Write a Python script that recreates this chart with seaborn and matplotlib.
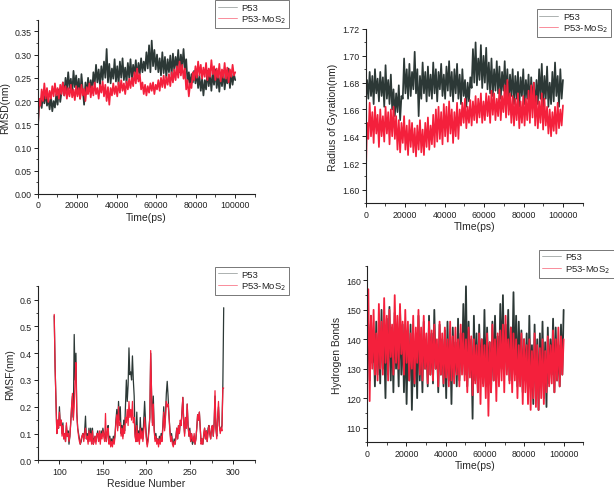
import numpy as np
import pandas as pd
import matplotlib
matplotlib.use("Agg")
import matplotlib.pyplot as plt
from matplotlib.ticker import AutoMinorLocator, FormatStrFormatter, MultipleLocator
from matplotlib.lines import Line2D
import seaborn as sns

sns.set_style("ticks")
plt.rcParams['font.family'] = ['Liberation Sans', 'DejaVu Sans']

DARK = '#2c3836'
RED = '#f4203c'

# ---------------- data ----------------
rmsd_p53 = [0.135, 0.190, 0.205, 0.185, 0.215, 0.195, 0.220, 0.190, 0.205, 0.182,
            0.210, 0.178, 0.200, 0.186, 0.215, 0.192, 0.225, 0.198, 0.220, 0.240,
            0.212, 0.250, 0.222, 0.262, 0.228, 0.248, 0.215, 0.265, 0.230, 0.255,
            0.220, 0.248, 0.205, 0.258, 0.225, 0.192, 0.240, 0.215, 0.250, 0.222,
            0.245, 0.218, 0.262, 0.235, 0.278, 0.240, 0.268, 0.232, 0.275, 0.245,
            0.285, 0.250, 0.312, 0.240, 0.280, 0.238, 0.270, 0.248, 0.290, 0.242,
            0.275, 0.235, 0.285, 0.250, 0.292, 0.245, 0.272, 0.238, 0.282, 0.250,
            0.290, 0.246, 0.278, 0.255, 0.288, 0.248, 0.282, 0.258, 0.292, 0.262,
            0.285, 0.265, 0.305, 0.270, 0.320, 0.262, 0.330, 0.275, 0.310, 0.268,
            0.300, 0.262, 0.292, 0.255, 0.305, 0.260, 0.295, 0.250, 0.290, 0.262,
            0.298, 0.255, 0.302, 0.265, 0.295, 0.270, 0.310, 0.262, 0.300, 0.272,
            0.312, 0.268, 0.290, 0.240, 0.262, 0.232, 0.258, 0.240, 0.265, 0.238,
            0.262, 0.228, 0.255, 0.222, 0.248, 0.212, 0.245, 0.225, 0.265, 0.232,
            0.258, 0.222, 0.262, 0.235, 0.268, 0.228, 0.255, 0.220, 0.260, 0.232,
            0.265, 0.225, 0.252, 0.238, 0.270, 0.228, 0.262, 0.235, 0.258, 0.245]

rmsd_mos2 = [0.130, 0.205, 0.190, 0.225, 0.200, 0.238, 0.205, 0.228, 0.198, 0.222,
             0.205, 0.232, 0.210, 0.238, 0.212, 0.228, 0.205, 0.235, 0.215, 0.240,
             0.212, 0.232, 0.205, 0.228, 0.210, 0.235, 0.208, 0.225, 0.202, 0.232,
             0.210, 0.228, 0.205, 0.235, 0.212, 0.226, 0.200, 0.230, 0.215, 0.238,
             0.208, 0.232, 0.212, 0.240, 0.215, 0.228, 0.205, 0.235, 0.218, 0.242,
             0.210, 0.235, 0.200, 0.230, 0.192, 0.228, 0.212, 0.238, 0.215, 0.232,
             0.210, 0.240, 0.218, 0.245, 0.222, 0.238, 0.215, 0.242, 0.225, 0.248,
             0.228, 0.250, 0.232, 0.262, 0.238, 0.270, 0.242, 0.258, 0.225, 0.240,
             0.215, 0.235, 0.212, 0.232, 0.218, 0.238, 0.222, 0.240, 0.215, 0.235,
             0.225, 0.245, 0.222, 0.250, 0.230, 0.255, 0.228, 0.252, 0.235, 0.258,
             0.232, 0.262, 0.240, 0.268, 0.245, 0.275, 0.250, 0.285, 0.255, 0.278,
             0.248, 0.270, 0.225, 0.245, 0.210, 0.238, 0.228, 0.262, 0.245, 0.275,
             0.250, 0.285, 0.255, 0.278, 0.248, 0.272, 0.252, 0.282, 0.245, 0.270,
             0.252, 0.288, 0.258, 0.275, 0.245, 0.270, 0.250, 0.280, 0.242, 0.268,
             0.250, 0.282, 0.248, 0.272, 0.240, 0.268, 0.252, 0.278, 0.255, 0.262]

rg_p53 = [1.665, 1.682, 1.668, 1.688, 1.670, 1.685, 1.664, 1.690, 1.672, 1.683,
          1.666, 1.688, 1.670, 1.684, 1.662, 1.693, 1.668, 1.682, 1.664, 1.686,
          1.660, 1.675, 1.655, 1.672, 1.658, 1.678, 1.652, 1.670, 1.668, 1.698,
          1.672, 1.690, 1.668, 1.694, 1.670, 1.688, 1.675, 1.703, 1.672, 1.690,
          1.655, 1.685, 1.668, 1.695, 1.672, 1.688, 1.666, 1.692, 1.670, 1.686,
          1.668, 1.695, 1.672, 1.690, 1.666, 1.688, 1.675, 1.694, 1.670, 1.686,
          1.668, 1.692, 1.674, 1.696, 1.670, 1.688, 1.666, 1.690, 1.672, 1.694,
          1.668, 1.686, 1.664, 1.690, 1.670, 1.682, 1.662, 1.680, 1.666, 1.684,
          1.676, 1.705, 1.680, 1.710, 1.678, 1.698, 1.682, 1.708, 1.676, 1.700,
          1.680, 1.706, 1.675, 1.695, 1.672, 1.698, 1.670, 1.690, 1.674, 1.696,
          1.672, 1.692, 1.668, 1.688, 1.674, 1.696, 1.670, 1.690, 1.666, 1.686,
          1.670, 1.690, 1.664, 1.685, 1.668, 1.688, 1.662, 1.684, 1.670, 1.690,
          1.664, 1.682, 1.668, 1.686, 1.662, 1.684, 1.666, 1.680, 1.660, 1.682,
          1.664, 1.690, 1.668, 1.694, 1.662, 1.685, 1.668, 1.692, 1.662, 1.680,
          1.664, 1.688, 1.666, 1.695, 1.670, 1.685, 1.662, 1.690, 1.668, 1.682]

rg_mos2 = [1.605, 1.650, 1.638, 1.665, 1.640, 1.658, 1.635, 1.662, 1.642, 1.656,
           1.632, 1.660, 1.640, 1.655, 1.636, 1.662, 1.642, 1.658, 1.634, 1.660,
           1.640, 1.662, 1.638, 1.655, 1.630, 1.652, 1.628, 1.650, 1.635, 1.655,
           1.630, 1.648, 1.626, 1.652, 1.632, 1.650, 1.628, 1.646, 1.625, 1.648,
           1.630, 1.652, 1.628, 1.645, 1.626, 1.650, 1.632, 1.654, 1.630, 1.648,
           1.634, 1.656, 1.632, 1.660, 1.636, 1.662, 1.638, 1.658, 1.634, 1.664,
           1.640, 1.662, 1.636, 1.666, 1.642, 1.660, 1.635, 1.658, 1.640, 1.665,
           1.638, 1.660, 1.648, 1.665, 1.650, 1.668, 1.646, 1.662, 1.650, 1.667,
           1.648, 1.666, 1.652, 1.670, 1.650, 1.668, 1.654, 1.672, 1.650, 1.666,
           1.652, 1.672, 1.655, 1.670, 1.650, 1.674, 1.656, 1.672, 1.652, 1.668,
           1.655, 1.675, 1.652, 1.670, 1.658, 1.678, 1.654, 1.682, 1.656, 1.672,
           1.650, 1.670, 1.648, 1.668, 1.652, 1.672, 1.646, 1.666, 1.650, 1.670,
           1.648, 1.668, 1.652, 1.674, 1.650, 1.678, 1.654, 1.680, 1.648, 1.670,
           1.646, 1.666, 1.650, 1.672, 1.645, 1.668, 1.648, 1.662, 1.642, 1.660,
           1.640, 1.658, 1.644, 1.662, 1.642, 1.665, 1.646, 1.660, 1.648, 1.663]

hb_p53 = [130, 145, 126, 148, 132, 140, 124, 146, 128, 142,
          125, 150, 130, 138, 120, 147, 128, 151, 126, 144,
          122, 149, 130, 140, 124, 151, 128, 145, 122, 142,
          118, 140, 126, 145, 116, 138, 124, 142, 120, 148,
          126, 140, 122, 146, 130, 138, 124, 148, 128, 142,
          125, 150, 130, 138, 122, 145, 128, 140, 124, 143,
          120, 146, 126, 141, 118, 144, 128, 139, 124, 147,
          126, 142, 130, 152, 128, 158, 124, 146, 130, 140,
          113, 148, 126, 142, 122, 145, 128, 140, 125, 150,
          124, 144, 128, 139, 122, 146, 126, 148, 130, 141,
          126, 152, 130, 155, 128, 145, 132, 150, 126, 144,
          130, 156, 128, 148, 124, 146, 130, 143, 122, 140,
          126, 142, 120, 148, 124, 138, 118, 145, 122, 140,
          116, 142, 124, 146, 120, 139, 117, 144, 125, 140,
          128, 147, 122, 144, 126, 138, 124, 145, 128, 150]

hb_mos2 = [135, 157, 119, 148, 130, 150, 128, 142, 126, 152,
           130, 146, 128, 154, 132, 148, 126, 150, 134, 145,
           128, 155, 132, 148, 130, 152, 135, 146, 128, 150,
           132, 146, 126, 142, 130, 148, 125, 144, 132, 150,
           128, 144, 126, 148, 130, 142, 125, 146, 128, 143,
           126, 145, 130, 140, 124, 146, 128, 142, 125, 144,
           127, 140, 124, 146, 126, 141, 125, 144, 128, 140,
           124, 145, 128, 142, 126, 140, 122, 144, 127, 141,
           121, 140, 125, 138, 122, 142, 118, 140, 124, 138,
           120, 142, 114, 139, 122, 145, 126, 140, 119, 142,
           124, 143, 126, 145, 122, 148, 128, 140, 125, 144,
           122, 142, 126, 140, 120, 138, 124, 142, 118, 140,
           122, 138, 118, 140, 116, 136, 120, 142, 117, 138,
           116, 137, 120, 140, 118, 136, 122, 141, 124, 138,
           125, 143, 122, 140, 126, 144, 124, 141, 128, 140]

residues = list(range(94, 290))
rmsf_p53 = [0.54, 0.35, 0.22, 0.10, 0.15, 0.12, 0.20, 0.13, 0.15, 0.10,
            0.14, 0.08, 0.10, 0.07, 0.13, 0.09, 0.11, 0.06, 0.09, 0.14,
            0.20, 0.24, 0.16, 0.47, 0.30, 0.40, 0.18, 0.12, 0.10, 0.08,
            0.06, 0.07, 0.09, 0.10, 0.08, 0.11, 0.165, 0.08, 0.10, 0.07,
            0.12, 0.08, 0.12, 0.07, 0.12, 0.06, 0.08, 0.09, 0.07, 0.09,
            0.11, 0.08, 0.10, 0.07, 0.11, 0.09, 0.12, 0.10, 0.08, 0.11,
            0.07, 0.11, 0.13, 0.07, 0.09, 0.06, 0.08, 0.06, 0.09, 0.07,
            0.10, 0.15, 0.19, 0.12, 0.22, 0.15, 0.20, 0.10, 0.13, 0.09,
            0.15, 0.11, 0.20, 0.30, 0.22, 0.28, 0.42, 0.32, 0.33, 0.30,
            0.39, 0.30, 0.24, 0.10, 0.07, 0.18, 0.08, 0.11, 0.07, 0.16,
            0.09, 0.12, 0.08, 0.15, 0.22, 0.15, 0.09, 0.06, 0.08, 0.12,
            0.16, 0.40, 0.25, 0.14, 0.24, 0.12, 0.08, 0.10, 0.07, 0.08,
            0.06, 0.09, 0.07, 0.10, 0.08, 0.13, 0.20, 0.12, 0.17, 0.25,
            0.295, 0.24, 0.17, 0.12, 0.08, 0.10, 0.07, 0.06, 0.08, 0.06,
            0.09, 0.12, 0.08, 0.13, 0.10, 0.14, 0.13, 0.18, 0.235, 0.14,
            0.10, 0.16, 0.12, 0.21, 0.13, 0.09, 0.12, 0.07, 0.10, 0.06,
            0.07, 0.09, 0.06, 0.08, 0.12, 0.17, 0.15, 0.18, 0.12, 0.07,
            0.08, 0.06, 0.09, 0.12, 0.08, 0.11, 0.07, 0.12, 0.13, 0.10,
            0.08, 0.12, 0.13, 0.09, 0.14, 0.24, 0.12, 0.09, 0.16, 0.20,
            0.13, 0.11, 0.12, 0.13, 0.28, 0.57]
rmsf_mos2 = [0.545, 0.35, 0.22, 0.10, 0.15, 0.12, 0.18, 0.13, 0.15, 0.09,
             0.13, 0.08, 0.10, 0.07, 0.14, 0.09, 0.10, 0.07, 0.09, 0.14,
             0.20, 0.25, 0.15, 0.20, 0.30, 0.365, 0.17, 0.12, 0.09, 0.07,
             0.06, 0.08, 0.09, 0.10, 0.07, 0.10, 0.12, 0.08, 0.09, 0.06,
             0.11, 0.07, 0.10, 0.06, 0.11, 0.06, 0.07, 0.09, 0.06, 0.10,
             0.10, 0.07, 0.11, 0.06, 0.10, 0.08, 0.11, 0.09, 0.07, 0.175,
             0.07, 0.10, 0.12, 0.06, 0.08, 0.05, 0.07, 0.05, 0.08, 0.06,
             0.09, 0.14, 0.17, 0.11, 0.20, 0.13, 0.14, 0.09, 0.12, 0.08,
             0.13, 0.10, 0.16, 0.14, 0.19, 0.13, 0.22, 0.16, 0.19, 0.15,
             0.22, 0.14, 0.16, 0.09, 0.07, 0.13, 0.07, 0.10, 0.06, 0.12,
             0.08, 0.11, 0.07, 0.11, 0.16, 0.12, 0.08, 0.05, 0.07, 0.11,
             0.16, 0.41, 0.25, 0.13, 0.21, 0.11, 0.07, 0.09, 0.06, 0.08,
             0.05, 0.08, 0.06, 0.09, 0.07, 0.12, 0.18, 0.11, 0.16, 0.22,
             0.20, 0.21, 0.17, 0.11, 0.07, 0.09, 0.06, 0.05, 0.07, 0.06,
             0.08, 0.12, 0.08, 0.13, 0.10, 0.15, 0.13, 0.18, 0.235, 0.14,
             0.09, 0.16, 0.12, 0.21, 0.13, 0.09, 0.11, 0.07, 0.10, 0.08,
             0.07, 0.10, 0.06, 0.08, 0.12, 0.17, 0.15, 0.18, 0.12, 0.06,
             0.08, 0.06, 0.10, 0.12, 0.08, 0.11, 0.07, 0.10, 0.13, 0.10,
             0.08, 0.12, 0.13, 0.09, 0.14, 0.26, 0.12, 0.08, 0.16, 0.22,
             0.13, 0.10, 0.12, 0.11, 0.27, 0.27]

series_names = ['P53', 'P53-MoS$_2$']

def time_grid(vals):
    return np.linspace(0, 100000, len(vals))

def make_df(x1, y1, x2, y2):
    return pd.concat([
        pd.DataFrame({'x': x1, 'y': y1, 's': series_names[0]}),
        pd.DataFrame({'x': x2, 'y': y2, 's': series_names[1]}),
    ], ignore_index=True)

fig = plt.figure(figsize=(6.14, 4.89), dpi=100)
W, H = 614, 489

def add_ax(l, r, t, b):
    return fig.add_axes([l / W, 1 - b / H, (r - l) / W, (b - t) / H])

ax1 = add_ax(37.7, 255, 20.7, 195)
ax2 = add_ax(365.7, 582.7, 30, 204.3)
ax3 = add_ax(37.7, 255, 287.3, 461.3)
ax4 = add_ax(367, 583.3, 266.7, 443.3)

pal = {series_names[0]: DARK, series_names[1]: RED}

def draw(ax, df, lw):
    sns.lineplot(data=df, x='x', y='y', hue='s', palette=pal, estimator=None,
                 sort=False, lw=lw, ax=ax, legend=False)

draw(ax1, make_df(time_grid(rmsd_p53), rmsd_p53, time_grid(rmsd_mos2), rmsd_mos2), 1.25)
draw(ax2, make_df(time_grid(rg_p53), rg_p53, time_grid(rg_mos2), rg_mos2), 1.25)
draw(ax3, make_df(residues, rmsf_p53, residues, rmsf_mos2), 0.9)
draw(ax4, make_df(time_grid(hb_p53), hb_p53, time_grid(hb_mos2), hb_mos2), 1.3)

def style(ax, xlabel, ylabel):
    sns.despine(ax=ax)
    ax.set_xlabel(xlabel, fontsize=7.5, labelpad=2)
    ax.set_ylabel(ylabel, fontsize=7.5, labelpad=3)
    ax.tick_params(which='major', direction='out', length=3, width=0.7,
                   labelsize=6.3, pad=1.5, colors='#222222')
    ax.tick_params(which='minor', direction='out', length=1.8, width=0.6)
    ax.xaxis.set_minor_locator(AutoMinorLocator(2))
    ax.yaxis.set_minor_locator(AutoMinorLocator(2))
    for s in ['left', 'bottom']:
        ax.spines[s].set_linewidth(0.8)
        ax.spines[s].set_color('#222222')

for ax in (ax1, ax2, ax4):
    ax.set_xlim(0, 110000)
    ax.set_xticks([0, 20000, 40000, 60000, 80000, 100000])

ax1.set_ylim(0, 0.375)
ax1.yaxis.set_major_locator(MultipleLocator(0.05))
ax1.yaxis.set_major_formatter(FormatStrFormatter('%.2f'))
style(ax1, 'Time(ps)', 'RMSD(nm)')

ax2.set_ylim(1.59, 1.72)
ax2.yaxis.set_major_locator(MultipleLocator(0.02))
ax2.yaxis.set_major_formatter(FormatStrFormatter('%.2f'))
style(ax2, 'TIme(ps)', 'Radius of Gyration(nm)')

ax3.set_xlim(75, 325)
ax3.set_ylim(0, 0.65)
ax3.xaxis.set_major_locator(MultipleLocator(50))
ax3.yaxis.set_major_locator(MultipleLocator(0.1))
ax3.yaxis.set_major_formatter(FormatStrFormatter('%.1f'))
style(ax3, 'Residue Number', 'RMSF(nm)')

ax4.set_ylim(105, 165)
ax4.yaxis.set_major_locator(MultipleLocator(10))
style(ax4, 'Time(ps)', 'Hydrogen Bonds')


def add_legend(x, y, loc):
    handles = [Line2D([], [], color=DARK, lw=0.6, alpha=0.45),
               Line2D([], [], color=RED, lw=0.6, alpha=0.6)]
    leg = fig.legend(handles, series_names, loc=loc,
                     bbox_to_anchor=(x / W, 1 - y / H), bbox_transform=fig.transFigure,
                     fontsize=6.8, frameon=True, fancybox=False, borderpad=0.3,
                     handlelength=2.0, handletextpad=0.5, labelspacing=0.2,
                     borderaxespad=0)
    fr = leg.get_frame()
    fr.set_edgecolor('#555555')
    fr.set_linewidth(0.7)
    return leg

add_legend(215, 1, 'upper left')
add_legend(611, 10, 'upper right')
add_legend(215, 267.7, 'upper left')
add_legend(613.5, 250.5, 'upper right')

fig.savefig('out.png', dpi=100)
